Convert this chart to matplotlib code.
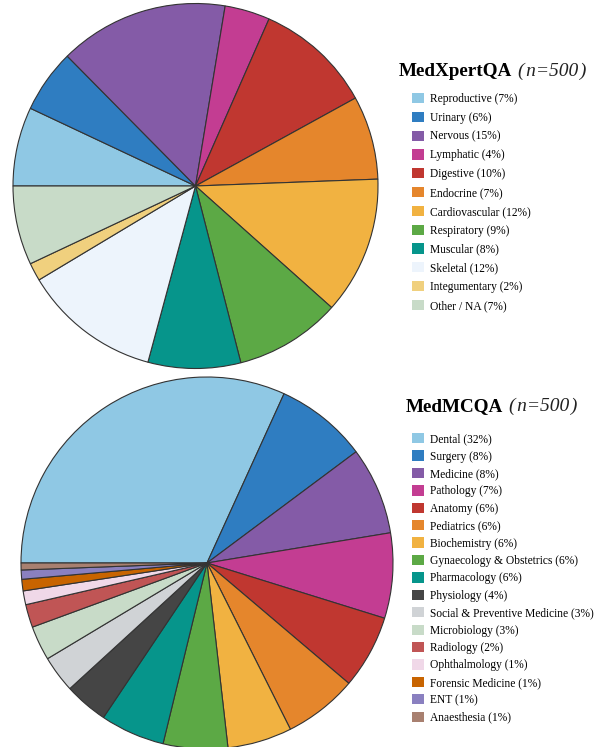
import matplotlib
matplotlib.use("Agg")
import matplotlib.pyplot as plt
from matplotlib.patches import Patch

plt.rcParams['font.family'] = ['Liberation Serif', 'DejaVu Serif']

# --- MedXpertQA (n=500), counts ---
xpert_labels = ["Reproductive", "Urinary", "Nervous", "Lymphatic", "Digestive",
                "Endocrine", "Cardiovascular", "Respiratory", "Muscular",
                "Skeletal", "Integumentary", "Other / NA"]
xpert_counts = [35, 28, 75, 20, 52, 37, 61, 47, 41, 61, 8, 35]
xpert_colors = ["#8fc8e4", "#2f7dc1", "#845ba7", "#c33d92", "#c03730",
                "#e5862c", "#f1b241", "#5ca945", "#06958b", "#edf4fc",
                "#f0d07e", "#c8dbc8"]

# --- MedMCQA (n=500) ---
mcqa_labels = ["Dental", "Surgery", "Medicine", "Pathology", "Anatomy",
               "Pediatrics", "Biochemistry", "Gynaecology & Obstetrics",
               "Pharmacology", "Physiology", "Social & Preventive Medicine",
               "Microbiology", "Radiology", "Ophthalmology",
               "Forensic Medicine", "ENT", "Anaesthesia"]
mcqa_counts = [159, 40, 38, 37, 32, 32, 28, 28, 28, 19, 16, 15, 10, 6, 5, 4, 3]
mcqa_colors = ["#8fc8e4", "#2f7dc1", "#845ba7", "#c33d92", "#c03730",
               "#e5862c", "#f1b241", "#5ca945", "#06958b", "#454545",
               "#d0d3d6", "#c8dbc8", "#c05555", "#f0d8e8", "#c86400",
               "#8a80c0", "#a88070"]

W, H = 599, 747
fig = plt.figure(figsize=(W / 100, H / 100), dpi=100)


def draw_pie(cx, cy, r, counts, colors):
    # cx, cy, r in pixels, cy measured from the top
    ax = fig.add_axes([(cx - r) / W, (H - cy - r) / H, 2 * r / W, 2 * r / H])
    wedges, _ = ax.pie(counts, colors=colors, startangle=180, counterclock=False,
                       wedgeprops=dict(edgecolor="#333333", linewidth=0.8))
    for w in wedges:
        w.set_clip_on(False)
    ax.set_xlim(-1, 1)
    ax.set_ylim(-1, 1)
    ax.set_aspect("equal")
    ax.axis("off")
    return ax


def draw_legend(x, y_base, y_first, title, labels, counts, colors, spacing):
    total = sum(counts)
    t = fig.text(x / W, 1 - y_base / H, title, fontsize=13.8, fontweight="bold",
                 va="baseline", ha="left")
    plt.annotate("(\u200an=500\u200a)", xy=(1, 0), xycoords=t, xytext=(4, 0),
                 textcoords="offset points", fontsize=14, style="italic",
                 va="bottom", ha="left", color="#222222")
    handles = [Patch(facecolor=c, edgecolor="none") for c in colors]
    names = [f"{l} ({round(100 * n / total)}%)" for l, n in zip(labels, counts)]
    fig.legend(handles, names, loc="upper left",
               bbox_to_anchor=(412 / W, 1 - y_first / H), frameon=False,
               fontsize=8.3, handlelength=1.0, handleheight=1.0,
               handletextpad=0.6, labelspacing=spacing, borderaxespad=0,
               borderpad=0)


draw_pie(195.5, 186, 182.5, xpert_counts, xpert_colors)
draw_pie(207, 563, 186, mcqa_counts, mcqa_colors)

draw_legend(399, 76, 93, "MedXpertQA", xpert_labels, xpert_counts,
            xpert_colors, 0.58)
draw_legend(406, 411, 433, "MedMCQA", mcqa_labels, mcqa_counts,
            mcqa_colors, 0.46)

fig.savefig("out.png", dpi=100)
